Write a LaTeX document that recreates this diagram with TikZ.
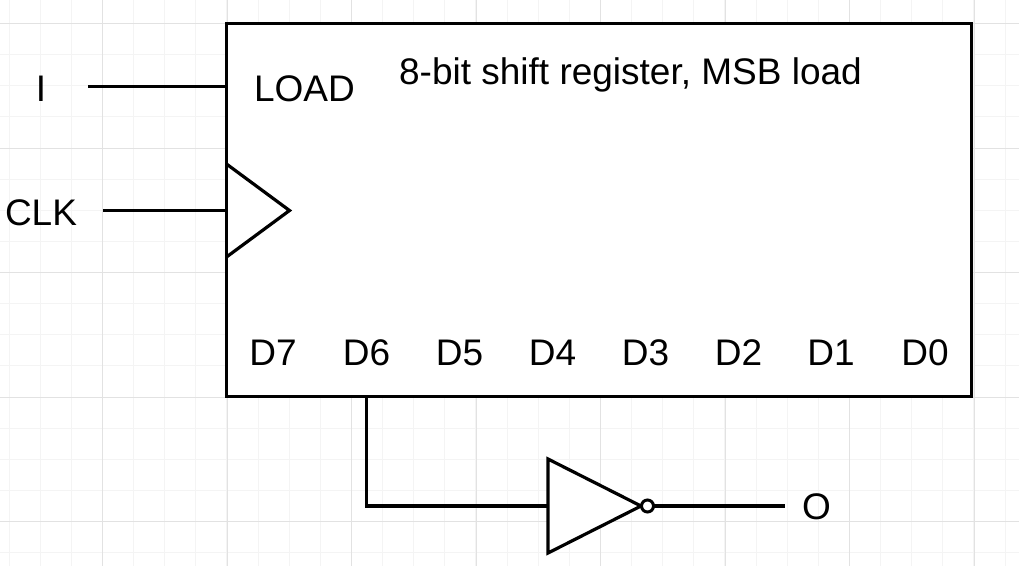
\documentclass[tikz,border=0pt]{standalone}
\usepackage{fontspec}
\setmainfont{Liberation Sans}
\definecolor{gridmajor}{RGB}{226,226,226}
\definecolor{gridminor}{RGB}{244,244,244}
\tikzset{
  wire/.style={line width=3.2pt,black,line cap=butt,line join=miter},
  lbl/.style={inner sep=0pt,font=\fontsize{37pt}{39pt}\selectfont,text=black,anchor=base},
  gatefill/.style={wire,fill=white}
}
\begin{document}
\begin{tikzpicture}[x=1pt,y=-1pt]
\useasboundingbox (0,0) rectangle (1032,566);
% grid
\foreach \k in {0,...,32} {\draw[gridminor,line width=1pt] ({9.1+31.125*\k},0) -- ({9.1+31.125*\k},566);}
\foreach \k in {0,...,17} {\draw[gridminor,line width=1pt] (0,{23.5+31.125*\k}) -- (1019,{23.5+31.125*\k});}
\foreach \k in {0,...,7} {\draw[gridmajor,line width=1pt] ({102.6+124.5*\k},0) -- ({102.6+124.5*\k},566);}
\foreach \k in {0,...,4} {\draw[gridmajor,line width=1pt] (0,{23.5+124.5*\k}) -- (1019,{23.5+124.5*\k});}
% register
\node[draw=black,line width=3pt,fill=white,minimum width=745pt,minimum height=373pt,inner sep=0pt,outer sep=0pt,anchor=north west] (reg) at (226.5,23.5) {};
\coordinate (loadpin) at (226.5,86.3);
\coordinate (clkpin) at (226.5,210.5);
\coordinate (d6pin) at (366.5,397);
\coordinate (clkA) at (226.5,164);
\coordinate (clkB) at (289.5,210.5);
\coordinate (clkC) at (226.5,257);
\draw[wire] (clkA) -- (clkB) -- (clkC);
% labels
\node[lbl] (in) at (41,101) {I};
\node[lbl] (clk) at (41,225.5) {CLK};
\node[lbl] (load) at (304.5,101) {LOAD};
\node[lbl] (title) at (630.5,84.5) {8-bit shift register, MSB load};
\node[lbl] (d7) at (273,365.3) {D7};
\node[lbl] (d6) at (366.5,365.3) {D6};
\node[lbl] (d5) at (459.5,365.3) {D5};
\node[lbl] (d4) at (552.5,365.3) {D4};
\node[lbl] (d3) at (645.5,365.3) {D3};
\node[lbl] (d2) at (738.5,365.3) {D2};
\node[lbl] (d1) at (831,365.3) {D1};
\node[lbl] (d0) at (925,365.3) {D0};
\node[lbl] (out) at (816.5,519.5) {O};
% wires
\coordinate (infree) at (88,86.3);
\coordinate (clkfree) at (103,210.5);
\coordinate (outfree) at (785,506);
\coordinate (invin) at (548,506);
\coordinate (bend) at (366.5,506);
\draw[wire] (infree) -- (loadpin);
\draw[wire] (clkfree) -- (clkpin);
\draw[wire] (d6pin) -- (bend) -- (invin);
% inverter
\coordinate (invA) at (548,459);
\coordinate (invB) at (641,506);
\coordinate (invC) at (548,553);
\draw[gatefill] (invA) -- (invB) -- (invC) -- cycle;
\node[circle,draw=black,line width=3pt,fill=white,minimum size=12pt,inner sep=0pt,outer sep=0pt] (bub) at (647.5,506) {};
\draw[wire] (bub.east) -- (outfree);
\end{tikzpicture}
\end{document}
